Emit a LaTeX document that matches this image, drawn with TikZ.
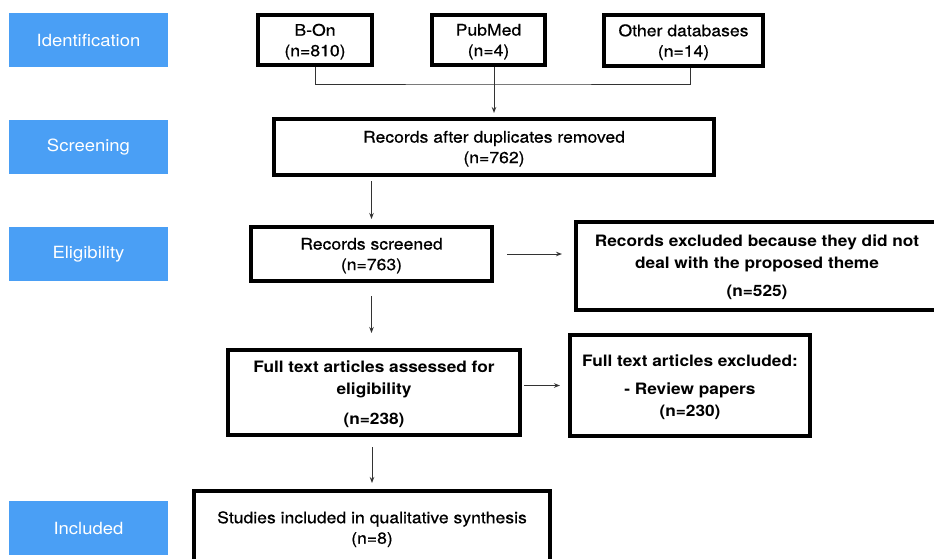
\documentclass[tikz,border=0pt]{standalone}
\usepackage{fontspec}
\setmainfont{TeX Gyre Heros}[FakeStretch=1.1]
\newfontfamily\medfont{TeX Gyre Heros}[FakeStretch=1.1,FakeBold=0.6]
\usepackage{xcolor}
\usepackage{tikz}
\usetikzlibrary{arrows.meta}
\definecolor{stageblue}{HTML}{4A9FF5}

\begin{document}
\begin{tikzpicture}[x=1pt,y=-1pt,
  stage/.style={fill=stageblue,text=white,minimum width=159pt,minimum height=54pt,inner sep=0pt,font=\fontsize{16.8}{20}\selectfont},
  flowbox/.style={draw,line width=4pt,align=center,inner sep=0pt,text depth=-5pt,font=\medfont\fontsize{16}{20.5}\selectfont},
  boldbox/.style={flowbox,text depth=-3pt,font=\fontsize{15.7}{22}\selectfont\bfseries},
  link/.style={draw=black!80,line width=1pt},
  flow/.style={link,-{Stealth[length=6pt,width=4.5pt]}}]
  \useasboundingbox (0,0) rectangle (934,558);
  % stages on the left
  \node[stage] (ident) at (88.5,40) {Identification};
  \node[stage] (screen) at (88.5,147) {Screening};
  \node[stage] (elig) at (88.5,254) {Eligibility};
  \node[stage] (incl) at (88.5,528) {Included};
  % sources
  \node[flowbox,minimum width=114pt,minimum height=50pt] (bon) at (315,40) {B-On\\(n=810)};
  \node[flowbox,minimum width=113pt,minimum height=50pt] (pubmed) at (488.5,40) {PubMed\\(n=4)};
  \node[flowbox,minimum width=159pt,minimum height=51pt] (other) at (683.5,40.5) {Other databases\\(n=14)};
  % main column
  \node[flowbox,minimum width=440pt,minimum height=56pt] (records) at (494,147) {Records after duplicates removed\\(n=762)};
  \node[flowbox,minimum width=241pt,minimum height=54pt] (screened) at (371.5,254) {Records screened\\(n=763)};
  \node[boldbox,minimum width=292pt,minimum height=85pt] (fulltext) at (374,392.5) {Full text articles assessed for\\eligibility\\[8pt](n=238)};
  \node[flowbox,minimum width=356pt,minimum height=73pt] (studies) at (372,527.5) {Studies included in qualitative synthesis\\(n=8)};
  % exclusions
  \node[boldbox,minimum width=362pt,minimum height=88pt] (excl1) at (757,266) {Records excluded because they did not\\deal with the proposed theme\\[6pt](n=525)};
  \node[boldbox,minimum width=240pt,minimum height=101pt] (excl2) at (690,385.5) {Full text articles excluded:\\[6pt]- Review papers\\(n=230)};
  % connectors
  \coordinate (merge) at (494,84);
  \draw[link] (bon.south) |- (merge) -| ([xshift=6.5pt]other.south);
  \draw[flow,shorten >=4pt] (records.north |- pubmed.south) -- (records.north);
  \draw[flow,shorten <=4pt,shorten >=6pt] (records.south -| screened.north) -- (screened.north);
  \draw[flow,shorten <=13pt,shorten >=12pt] (screened.east) -- (screened.east -| excl1.west);
  \draw[flow,shorten <=13pt,shorten >=15pt] (screened.south) -- (screened.south |- fulltext.north);
  \draw[flow,shorten <=2pt,shorten >=8pt] (fulltext.east |- excl2.center) -- (excl2.west);
  \draw[flow,shorten <=10pt,shorten >=6pt] (fulltext.south -| studies.north) -- (studies.north);
\end{tikzpicture}
\end{document}
